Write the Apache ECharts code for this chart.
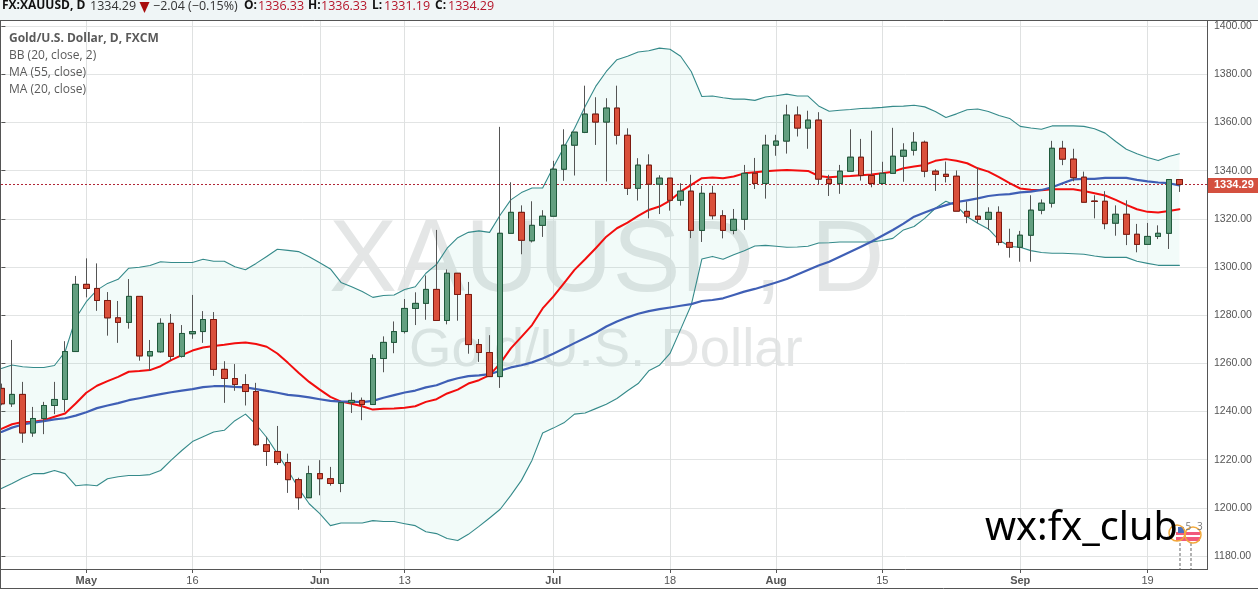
<!DOCTYPE html>
<html><head><meta charset="utf-8">
<style>html,body{margin:0;padding:0;background:#fff}#c{width:1258px;height:590px}</style>
<script src="https://cdn.jsdelivr.net/npm/echarts@6/dist/echarts.min.js"></script>
</head><body><div id="c"></div>
<script>
const opens=[1249.6,1243.2,1247.1,1231.1,1237.1,1242.5,1245.0,1264.9,1292.8,1291.1,1286.1,1278.9,1277.0,1287.8,1263.1,1264.8,1276.6,1262.9,1272.3,1273.2,1278.2,1257.5,1253.7,1251.2,1248.3,1226.2,1223.4,1218.8,1211.7,1204.2,1214.2,1212.1,1210.1,1243.7,1244.6,1242.9,1262.0,1268.7,1273.2,1282.8,1284.9,1290.7,1277.8,1297.4,1288.6,1267.8,1264.5,1254.5,1314.0,1322.7,1310.9,1317.3,1321.1,1340.6,1350.6,1355.9,1363.5,1360.2,1366.0,1354.7,1332.7,1342.3,1334.4,1336.9,1327.7,1331.5,1315.2,1330.6,1321.3,1315.2,1319.8,1338.9,1334.7,1350.6,1352.3,1363.1,1357.7,1361.0,1336.5,1334.7,1339.8,1345.6,1338.0,1334.7,1338.9,1346.0,1348.5,1351.8,1339.8,1338.5,1337.7,1323.1,1321.1,1319.8,1322.7,1310.2,1308.2,1313.2,1323.6,1326.5,1349.3,1344.8,1337.3,1327.4,1327.3,1318.2,1321.9,1313.6,1309.4,1312.7,1314.0,1336.33];
const closes=[1243.2,1247.1,1231.1,1237.1,1242.5,1245.0,1264.9,1292.8,1291.1,1286.1,1278.9,1277.0,1287.8,1263.1,1264.9,1276.6,1262.9,1272.4,1273.2,1278.2,1257.5,1253.7,1251.2,1248.3,1226.2,1223.4,1218.8,1211.7,1204.2,1214.2,1212.1,1210.1,1243.7,1244.6,1242.9,1262.0,1268.7,1273.2,1282.8,1284.9,1290.7,1277.8,1297.4,1288.6,1267.8,1264.5,1254.5,1314.0,1322.7,1311.1,1317.3,1321.1,1340.6,1350.6,1356.0,1363.5,1360.2,1366.0,1354.7,1332.7,1342.3,1334.4,1336.9,1327.7,1331.5,1315.2,1330.6,1321.3,1315.2,1319.8,1338.9,1334.7,1350.6,1352.3,1363.1,1357.7,1361.0,1336.5,1334.7,1339.8,1345.6,1338.0,1334.7,1338.9,1346.0,1348.5,1351.8,1339.8,1338.5,1337.6,1323.2,1321.1,1319.8,1322.7,1310.2,1308.2,1313.2,1323.6,1326.5,1349.3,1344.8,1337.1,1326.9,1327.2,1318.0,1321.9,1313.6,1309.4,1312.7,1314.0,1336.33,1334.29];
const lows=[1242.6,1241.9,1227.0,1229.5,1230.6,1238.9,1239.9,1264.9,1287.4,1281.8,1271.5,1268.5,1274.4,1261.1,1256.9,1264.4,1261.3,1262.4,1270.2,1268.5,1254.8,1243.6,1248.6,1242.5,1225.7,1217.4,1217.8,1206.2,1199.2,1204.2,1205.2,1209.2,1206.5,1239.4,1236.4,1242.9,1256.3,1264.2,1272.4,1275.9,1278.1,1277.8,1276.2,1277.7,1264.0,1260.6,1254.5,1249.8,1314.0,1305.3,1310.2,1312.5,1321.1,1335.8,1338.0,1355.6,1350.7,1335.5,1350.9,1329.9,1327.6,1320.2,1322.0,1323.4,1325.5,1312.0,1310.4,1319.8,1311.9,1313.6,1315.4,1332.4,1328.4,1346.2,1347.1,1354.2,1349.1,1334.4,1329.5,1330.4,1339.8,1335.9,1333.1,1334.7,1338.9,1335.4,1346.3,1337.3,1331.6,1335.1,1323.2,1318.2,1318.2,1315.4,1309.0,1303.9,1302.2,1302.2,1321.9,1324.7,1342.3,1335.6,1326.9,1320.2,1315.7,1313.0,1309.1,1306.1,1309.4,1311.6,1307.5,1331.19];
const highs=[1251.6,1269.7,1252.3,1241.9,1244.0,1252.3,1269.2,1296.3,1303.6,1301.5,1289.6,1285.9,1295.0,1287.8,1269.7,1278.7,1280.5,1275.9,1288.4,1281.7,1281.3,1260.9,1259.7,1255.5,1251.9,1229.5,1234.0,1222.5,1212.5,1217.5,1219.8,1217.0,1243.7,1247.9,1245.8,1263.7,1271.2,1277.4,1286.7,1289.5,1296.5,1315.4,1299.0,1297.4,1293.8,1270.1,1271.7,1358.2,1335.2,1325.6,1327.3,1323.6,1344.1,1357.2,1356.0,1375.3,1370.5,1370.1,1375.3,1357.6,1345.2,1346.8,1338.1,1336.9,1334.8,1338.3,1333.7,1333.7,1323.6,1324.1,1342.4,1345.3,1354.9,1354.9,1367.4,1366.7,1364.9,1364.3,1338.3,1342.4,1357.2,1353.2,1356.6,1343.7,1357.8,1351.4,1356.0,1352.5,1340.6,1343.8,1340.1,1327.2,1341.3,1324.8,1325.2,1315.9,1315.0,1329.8,1328.1,1352.4,1352.4,1349.1,1339.6,1329.8,1331.5,1325.6,1327.7,1317.9,1318.3,1317.3,1336.33,1336.33];
const ma20=[1232.8,1234.7,1235.6,1235.7,1236.4,1237.8,1239.2,1243.3,1247.8,1250.7,1252.6,1254.4,1256.5,1256.8,1257.2,1258.8,1261.3,1263.4,1265.3,1266.6,1267.2,1267.7,1268.3,1268.7,1268.0,1266.9,1264.1,1260.2,1256.1,1252.3,1249.1,1246.1,1244.1,1243.2,1242.2,1240.8,1241.1,1241.2,1241.6,1242.2,1244.0,1245.1,1247.5,1249.1,1251.6,1253.0,1255.1,1260.0,1266.2,1271.0,1275.9,1282.8,1287.7,1293.2,1298.8,1303.2,1307.8,1312.6,1316.1,1318.4,1321.2,1323.7,1325.1,1327.6,1331.3,1334.1,1336.9,1337.2,1336.9,1337.6,1338.9,1339.4,1339.8,1340.1,1340.3,1340.1,1339.9,1337.8,1337.3,1337.6,1337.8,1338.1,1338.4,1338.9,1339.6,1341.0,1341.7,1342.4,1344.1,1344.8,1344.1,1343.1,1341.0,1339.6,1337.3,1334.8,1332.6,1332.1,1331.9,1332.3,1332.3,1332.3,1331.6,1330.6,1329.7,1327.9,1325.8,1324.0,1322.9,1322.6,1323.3,1324.0];
const ma55=[1231.5,1233.3,1234.6,1235.4,1236.0,1236.7,1237.2,1238.3,1239.7,1241.4,1242.5,1243.5,1244.7,1245.5,1246.4,1247.2,1248.0,1248.7,1249.3,1250.1,1250.5,1250.5,1250.2,1250.0,1249.3,1248.6,1247.8,1246.9,1246.5,1245.9,1245.1,1244.4,1244.1,1244.1,1243.9,1244.4,1245.7,1246.8,1247.9,1248.7,1250.0,1250.9,1252.6,1253.8,1254.7,1255.0,1255.5,1256.9,1258.3,1259.2,1260.4,1262.0,1264.0,1266.2,1268.4,1270.5,1272.7,1275.3,1277.4,1279.1,1280.6,1281.7,1282.5,1283.2,1283.9,1284.6,1285.9,1286.3,1287.0,1288.4,1289.8,1290.9,1292.2,1293.6,1295.0,1296.9,1298.8,1300.6,1302.2,1304.3,1306.3,1308.4,1310.6,1313.0,1315.4,1318.0,1320.9,1322.6,1324.3,1325.7,1327.0,1327.7,1328.5,1329.5,1330.0,1330.3,1331.0,1331.3,1332.0,1333.1,1334.8,1336.4,1336.6,1336.6,1337.0,1337.0,1337.0,1336.2,1335.6,1335.1,1334.8,1333.9];
const bbUpper=[1257.9,1259.3,1258.6,1258.3,1258.3,1259.1,1264.8,1278.7,1285.6,1290.4,1293.2,1294.9,1299.5,1299.9,1300.6,1302.2,1301.9,1301.9,1301.9,1303.2,1302.4,1302.4,1300.1,1298.9,1301.5,1304.4,1307.4,1306.9,1306.4,1304.3,1301.8,1299.2,1293.6,1291.8,1289.8,1287.4,1288.2,1288.4,1290.7,1291.8,1297.4,1301.1,1307.8,1312.2,1314.4,1315.0,1314.4,1321.6,1327.9,1330.9,1332.8,1332.8,1341.4,1349.6,1357.5,1366.7,1375.0,1381.2,1386.1,1387.5,1389.3,1389.8,1390.9,1390.4,1387.5,1381.2,1370.8,1371.0,1370.3,1369.7,1369.7,1369.2,1370.6,1371.1,1371.8,1371.0,1371.0,1366.9,1364.7,1365.1,1365.4,1365.8,1366.0,1366.3,1366.7,1366.8,1367.2,1366.5,1364.6,1362.1,1363.6,1365.3,1365.6,1364.6,1362.9,1361.7,1358.4,1357.7,1357.2,1358.6,1358.6,1358.6,1358.4,1357.4,1355.6,1352.1,1348.9,1347.0,1345.5,1344.2,1345.9,1347.0];
const bbLower=[1208.0,1210.1,1212.4,1214.2,1214.2,1215.5,1214.2,1209.2,1209.6,1209.2,1212.1,1212.9,1213.4,1213.4,1213.8,1215.5,1219.8,1223.8,1227.5,1229.5,1231.5,1232.2,1236.2,1238.9,1234.6,1229.2,1222.5,1215.6,1208.1,1201.7,1197.6,1192.6,1193.7,1193.7,1193.7,1194.7,1194.3,1194.3,1193.4,1192.6,1190.1,1189.3,1187.3,1186.4,1189.0,1192.3,1195.8,1199.4,1205.2,1211.4,1219.8,1231.1,1233.1,1235.3,1238.9,1239.4,1241.2,1243.0,1245.4,1248.6,1251.6,1256.9,1259.2,1264.1,1274.1,1284.2,1303.3,1304.4,1303.2,1305.1,1306.8,1308.7,1309.0,1308.6,1308.2,1308.3,1308.6,1310.0,1310.1,1310.4,1310.4,1310.4,1310.4,1311.0,1311.9,1315.4,1316.8,1320.2,1324.4,1327.3,1325.4,1320.9,1318.2,1315.8,1311.2,1308.5,1308.2,1306.8,1306.0,1305.7,1305.7,1305.5,1305.3,1304.6,1304.0,1304.0,1304.0,1302.4,1301.5,1300.7,1300.7,1300.7];
const xTickIndex=[8,18,30,38,52,63,73,83,96,108];
const xTickLabels=['May','16','Jun','13','Jul','18','Aug','15','Sep','19'];
const yTicks=[1180,1200,1220,1240,1260,1280,1300,1320,1340,1360,1380,1400];
const lastPrice=1334.29;

const GREEN='#639f80',GREEN_B='#1f5a3c',RED='#d9503b',RED_B='#7f1a10',WICK='#555555';
const idx=opens.map((_,i)=>i);
const pair=a=>a.map((v,i)=>[i,v]);
const font='"Open Sans","Noto Sans",sans-serif';
const full=idx.map(i=>[i,opens[i],closes[i],lows[i],highs[i]]);
const bodies=idx.map(i=>[i,opens[i],closes[i],Math.min(opens[i],closes[i]),Math.max(opens[i],closes[i])]);
const line=(name,data,color,width,z)=>({name,type:'line',data:pair(data),showSymbol:false,symbol:'none',smooth:false,z,
  lineStyle:{color,width,cap:'round',join:'round'},emphasis:{disabled:true},silent:true});
const candle=(name,data,up,down,z,extra)=>Object.assign({name,type:'candlestick',data,encode:{x:0,y:[1,2,3,4]},barWidth:6,z,
  itemStyle:{color:up.f,color0:down.f,borderColor:up.b,borderColor0:down.b,borderWidth:1},silent:true},extra||{});

const hb=(x,t)=>({type:'text',left:x,top:0,silent:true,z:50,style:{text:t,fontFamily:font,fontWeight:'bold',fill:'#111',fontSize:12}});
const hr=(x,t,c)=>({type:'text',left:x,top:0,silent:true,z:50,style:{text:t,fontFamily:font,fill:c||'#b5162a',fontSize:12.5}});
const lg=(y,t,w)=>({type:'text',left:9,top:y,silent:true,z:50,style:{text:t,fontFamily:font,fontSize:12,fontWeight:w||'normal',fill:'#5a5a5a'}});

const graphic=[
 {type:'rect',shape:{x:0,y:0,width:1258,height:20},style:{fill:'#eff5f6'},silent:true,z:40},
 {type:'rect',shape:{x:0,y:588,width:1258,height:2},style:{fill:'#ffffff'},silent:true,z:40},
 {type:'line',shape:{x1:0,y1:20.5,x2:1258,y2:20.5},style:{stroke:'#555',lineWidth:1},silent:true,z:41},
 {type:'line',shape:{x1:0.5,y1:20,x2:0.5,y2:588},style:{stroke:'#555',lineWidth:1},silent:true,z:41},
 {type:'line',shape:{x1:0,y1:588.5,x2:1258,y2:588.5},style:{stroke:'#555',lineWidth:1},silent:true,z:41},
 {type:'line',shape:{x1:1,y1:569.5,x2:1207,y2:569.5},style:{stroke:'#555',lineWidth:1},silent:true,z:41},
 {type:'line',shape:{x1:1207.5,y1:20,x2:1207.5,y2:570},style:{stroke:'#555',lineWidth:1},silent:true,z:41},
 hb(2,'FX:XAUUSD, D'),
 hr(90,'1334.29','#333'),
 {type:'polygon',shape:{points:[[139.5,2],[149.5,2],[144.5,13]]},style:{fill:'#a80d0d'},silent:true,z:50},
 hr(153,'\u22122.04 (\u22120.15%)','#333'),
 hb(244,'O:'),hr(258,'1336.33'),hb(308,'H:'),hr(321,'1336.33'),hb(372,'L:'),hr(384,'1331.19'),hb(435,'C:'),hr(448,'1334.29'),
 lg(33,'Gold/U.S. Dollar, D, FXCM','bold'),lg(50,'BB (20, close, 2)'),lg(67,'MA (55, close)'),lg(84,'MA (20, close)'),
 {type:'text',x:329,y:314,silent:true,z:0,style:{text:'XAUUSD, D',fontFamily:'"Liberation Sans",Arial,sans-serif',fontSize:102,fill:'#e4e6e6',verticalAlign:'bottom'}},
 {type:'text',x:409,y:378,silent:true,z:0,style:{text:'Gold/U.S. Dollar',fontFamily:'"Liberation Sans",Arial,sans-serif',fontSize:54.5,fill:'#e4e6e6',verticalAlign:'bottom'}},
 {type:'line',shape:{x1:1180,y1:543,x2:1180,y2:569},style:{stroke:'#999',lineWidth:1.5,lineDash:[3,2]},silent:true,z:45},
 {type:'line',shape:{x1:1191,y1:543,x2:1191,y2:569},style:{stroke:'#999',lineWidth:1.5,lineDash:[3,2]},silent:true,z:45},
 {type:'rect',shape:{x:1176,y:532,width:24,height:9},style:{fill:'#f25a7a'},silent:true,z:45},
 {type:'rect',shape:{x:1176,y:535,width:24,height:2},style:{fill:'#fff'},silent:true,z:46},
 {type:'rect',shape:{x:1178,y:527,width:6,height:6},style:{fill:'#4a6fc0'},silent:true,z:46},
 {type:'circle',shape:{cx:1177,cy:533,r:8},style:{fill:'none',stroke:'#f2a93b',lineWidth:1.5},silent:true,z:47},
 {type:'circle',shape:{cx:1193,cy:535,r:8},style:{fill:'none',stroke:'#f2a93b',lineWidth:1.5},silent:true,z:47},
 {type:'text',left:1185.5,top:522,silent:true,z:48,style:{text:'5',fontFamily:font,fontSize:10,fill:'#777'}},
 {type:'text',left:1197,top:522,silent:true,z:48,style:{text:'3',fontFamily:font,fontSize:10,fill:'#777'}},
 {type:'text',left:985,top:509,silent:true,z:60,style:{text:'wx:fx_club',fontFamily:'"Noto Sans",sans-serif',fontSize:39.6,fill:'#000'}}
];

const chart=echarts.init(document.getElementById('c'),null,{renderer:'canvas'});
chart.setOption({
 animation:false,backgroundColor:'#fff',
 grid:{left:1,right:51,top:21,bottom:21,containLabel:false},
 xAxis:{type:'value',min:-0.038,max:113.6,
   axisLine:{show:false},
   axisTick:{show:true,length:4,lineStyle:{color:'#555'},customValues:xTickIndex},
   axisLabel:{customValues:xTickIndex,margin:6,fontFamily:'"Liberation Sans",Arial,sans-serif',fontSize:11,color:'#555',
     formatter:v=>{const s=xTickLabels[xTickIndex.indexOf(Math.round(v))]||'';return /^\d/.test(s)?s:'{b|'+s+'}'},
     rich:{b:{fontWeight:'bold',fontSize:11,color:'#555',fontFamily:'"Liberation Sans",Arial,sans-serif'}}},
   splitLine:{show:true,lineStyle:{color:'#dfe1e1',width:1}}},
 yAxis:{type:'value',position:'right',min:1174.6,max:1402.16,scale:true,
   axisLine:{show:false},
   axisTick:{show:true,length:4,lineStyle:{color:'#555'},customValues:yTicks},
   axisLabel:{customValues:yTicks,margin:7,padding:[5,0,0,0],fontFamily:'"Liberation Sans",Arial,sans-serif',fontSize:10.5,color:'#555',formatter:v=>v.toFixed(2)},
   splitLine:{show:true,lineStyle:{color:'#e2e4e4',width:1}}},
 series:[
  {name:'BB band',type:'custom',data:[[0,bbLower[0]]],encode:{x:0,y:1},z:2,silent:true,clip:true,
   renderItem:(params,api)=>{
     const up=idx.map(i=>api.coord([i,bbUpper[i]]));
     const low=idx.slice().reverse().map(i=>api.coord([i,bbLower[i]]));
     return {type:'polygon',shape:{points:up.concat(low)},style:{fill:'rgba(70,195,175,0.07)'}};
   }},
  line('BB upper',bbUpper,'#358a8a',1.1,3),
  line('BB lower',bbLower,'#358a8a',1.1,3),
  line('MA 20',ma20,'#f20d0d',2,4),
  line('MA 55',ma55,'#3f5fb5',2.2,5),
  candle('XAUUSD wicks',full,{f:GREEN,b:WICK},{f:RED,b:WICK},6,{
    markLine:{silent:true,symbol:'none',animation:false,data:[{yAxis:lastPrice}],
      lineStyle:{color:'#b02535',type:[2,2],width:1},
      label:{position:'end',distance:0,formatter:'1334.29',color:'#fff',fontWeight:'bold',fontSize:11,fontFamily:'"Liberation Sans",Arial,sans-serif',backgroundColor:'#d4503f',padding:[2,6,2,6],offset:[1,1]}}}),
  candle('XAUUSD',bodies,{f:GREEN,b:GREEN_B},{f:RED,b:RED_B},7)
 ],
 graphic:{elements:graphic}
});
</script></body></html>
